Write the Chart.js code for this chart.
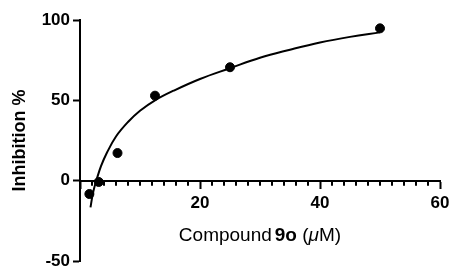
<!DOCTYPE html>
<html><head><meta charset="utf-8">
<script src="https://cdn.jsdelivr.net/npm/chart.js@4"></script>
<style>html,body{margin:0;padding:0;background:#fff}#wrap{width:454px;height:270px}</style>
</head><body><div id="wrap"><canvas id="c"></canvas></div>
<script>
const concentrations = [1.5625, 3.125, 6.25, 12.5, 25, 50];
const inhibition = [-8.3, -0.8, 17.2, 52.9, 70.6, 94.8];
const curveX = [1.75, 2.2, 2.8, 3.5, 4.5, 6, 8, 10, 12.5, 15.6, 20, 25, 30, 35, 40, 45, 50];
const curveY = [-16.6, -7, 1, 9, 17.5, 27.5, 36.5, 43.5, 50, 56, 63.3, 70, 76.5, 81.5, 86, 89.5, 92.3];
const yTicks = [-50, 0, 50, 100];
const xMajorTicks = [0, 20, 40, 60];
const xMinorTicks = [2, 4, 6, 8, 10, 12, 14, 16, 18, 22, 24, 26, 28, 30, 32, 34, 36, 38,
                     42, 44, 46, 48, 50, 52, 54, 56, 58];
const yTitle = 'Inhibition %';
const xTitleParts = [
  {text: 'Compound', weight: 'normal', style: 'normal'},
  {text: '9o', weight: 'bold', style: 'normal', gap: 3},
  {text: ' (', weight: 'normal', style: 'normal'},
  {text: 'μ', weight: 'normal', style: 'italic'},
  {text: 'M)', weight: 'normal', style: 'normal'}
];
const FONT = '"Liberation Sans", Arial, Helvetica, sans-serif';

const titlePlugin = {
  id: 'titles',
  afterDraw(chart) {
    const ctx = chart.ctx;
    const xs = chart.scales.x, ys = chart.scales.y;
    const y0 = ys.getPixelForValue(0);
    ctx.save();
    // minor ticks
    ctx.strokeStyle = '#000';
    ctx.lineWidth = 2;
    ctx.beginPath();
    xMinorTicks.forEach(v => {
      const px = Math.round(xs.getPixelForValue(v));
      ctx.moveTo(px, y0);
      ctx.lineTo(px, y0 + 5);
    });
    ctx.stroke();
    // titles
    ctx.fillStyle = '#000';
    const size = 19;
    let total = 0;
    const widths = xTitleParts.map(p => {
      ctx.font = `${p.style} ${p.weight} ${size}px ${FONT}`;
      const w = ctx.measureText(p.text).width + (p.gap || 0);
      total += w; return w;
    });
    let x = xs.getPixelForValue(30) - total / 2;
    const yBase = y0 + 60;
    ctx.textBaseline = 'alphabetic';
    ctx.textAlign = 'left';
    xTitleParts.forEach((p, i) => {
      ctx.font = `${p.style} ${p.weight} ${size}px ${FONT}`;
      ctx.fillText(p.text, x + (p.gap || 0), yBase);
      x += widths[i];
    });
    ctx.font = `bold 18px ${FONT}`;
    ctx.translate(20, ys.getPixelForValue(25));
    ctx.rotate(-Math.PI / 2);
    ctx.textAlign = 'center';
    ctx.textBaseline = 'middle';
    ctx.fillText(yTitle, 0, 0);
    ctx.restore();
  }
};

new Chart(document.getElementById('c'), {
  type: 'scatter',
  data: {
    datasets: [
      {
        type: 'line',
        data: curveX.map((v, i) => ({x: v, y: curveY[i]})),
        borderColor: '#000', borderWidth: 2, pointRadius: 0,
        tension: 0.4, fill: false
      },
      {
        type: 'scatter',
        data: concentrations.map((v, i) => ({x: v, y: inhibition[i]})),
        backgroundColor: '#000', borderColor: '#000', pointRadius: 4.5, pointHoverRadius: 4.5
      }
    ]
  },
  options: {
    responsive: true, maintainAspectRatio: false, animation: false,
    plugins: {legend: {display: false}, tooltip: {enabled: false}},
    layout: {padding: {top: 20, right: 14, bottom: 9, left: 0}},
    scales: {
      x: {
        type: 'linear', min: 0, max: 60, position: {y: 0},
        afterBuildTicks: s => { s.ticks = xMajorTicks.map(v => ({value: v})); },
        afterFit: s => { s.paddingLeft = 0; s.paddingRight = 0; },
        ticks: {color: '#000', font: {family: FONT, size: 17, weight: 'bold'}, padding: 5,
                callback: v => v === 0 ? '' : v, maxRotation: 0, autoSkip: false},
        grid: {drawOnChartArea: false, drawTicks: true, tickLength: 7, tickWidth: 2, tickColor: '#000'},
        border: {display: true, color: '#000', width: 2}
      },
      y: {
        type: 'linear', min: -50, max: 100, position: 'left',
        afterBuildTicks: s => { s.ticks = yTicks.map(v => ({value: v})); },
        afterFit: s => { s.width = 80; s.paddingTop = 0; s.paddingBottom = 0; },
        ticks: {color: '#000', font: {family: FONT, size: 17, weight: 'bold'}, padding: 3},
        grid: {drawOnChartArea: false, drawTicks: true, tickLength: 7, tickWidth: 2, tickColor: '#000'},
        border: {display: true, color: '#000', width: 2}
      }
    }
  },
  plugins: [titlePlugin]
});
</script></body></html>
